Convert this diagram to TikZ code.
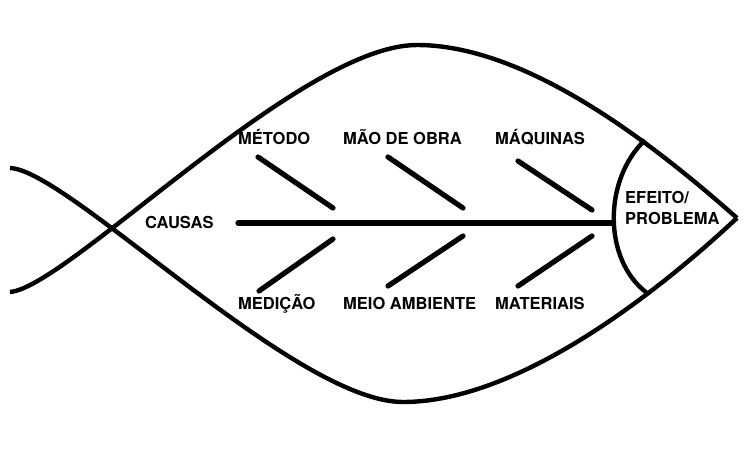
\documentclass[tikz,border=0pt]{standalone}
\usepackage{fontspec}
\setmainfont{TeX Gyre Heros}
\begin{document}
\begin{tikzpicture}[x=1pt,y=-1pt,
  lbl/.style={inner sep=0pt,anchor=base west,font=\bfseries\fontsize{16.5}{20}\selectfont},
  body/.style={line width=4.4pt,line join=round},
  bone/.style={line width=5.2pt,line cap=round}]
\useasboundingbox (0,0) rectangle (748,448);
% body coordinates
\coordinate (tailL) at (10,292);
\coordinate (tailU) at (10,168);
\coordinate (top) at (417,45);
\coordinate (bot) at (403,402);
\coordinate (tip) at (737,218);
\coordinate (hu) at (645,140);
\coordinate (hl) at (647,293);
\coordinate (hm) at (613,223);
\coordinate (sp) at (238,223);
% fish body
\draw[body] (tailL) .. controls (68,287) and (300,45) .. (top)
  .. controls (530,45) and (660,150) .. (tip);
\draw[body] (tailU) .. controls (68,170) and (295,402) .. (bot)
  .. controls (520,402) and (660,290) .. (tip);
% head arc
\draw[body] (hu) .. controls (603,180) and (603,260) .. (hl);
% spine
\draw[line width=5.2pt] (sp) -- (hm);
\draw[line width=5.2pt,line cap=round] (sp) -- ++(1,0);
% bones
\coordinate (b1a) at (258,157); \coordinate (b1b) at (333,208);
\coordinate (b2a) at (388,157); \coordinate (b2b) at (463,208);
\coordinate (b3a) at (518,161); \coordinate (b3b) at (592,210);
\coordinate (b4a) at (333,239); \coordinate (b4b) at (259,291);
\coordinate (b5a) at (463,236); \coordinate (b5b) at (388,286);
\coordinate (b6a) at (592,236); \coordinate (b6b) at (518,286);
\draw[bone] (b1a) -- (b1b);
\draw[bone] (b2a) -- (b2b);
\draw[bone] (b3a) -- (b3b);
\draw[bone] (b4a) -- (b4b);
\draw[bone] (b5a) -- (b5b);
\draw[bone] (b6a) -- (b6b);
% labels
\node[lbl] (metodo) at (238,144) {MÉTODO};
\node[lbl] (mao) at (343,144) {MÃO DE OBRA};
\node[lbl] (maq) at (495,144) {MÁQUINAS};
\node[lbl] (med) at (238,309) {MEDIÇÃO};
\node[lbl] (meio) at (343,309) {MEIO AMBIENTE};
\node[lbl] (mat) at (495,309) {MATERIAIS};
\node[lbl] (causas) at (145,228) {CAUSAS};
\node[lbl] (efeito) at (625,203) {EFEITO/};
\node[lbl] (problema) at (625,224) {PROBLEMA};
\end{tikzpicture}
\end{document}
